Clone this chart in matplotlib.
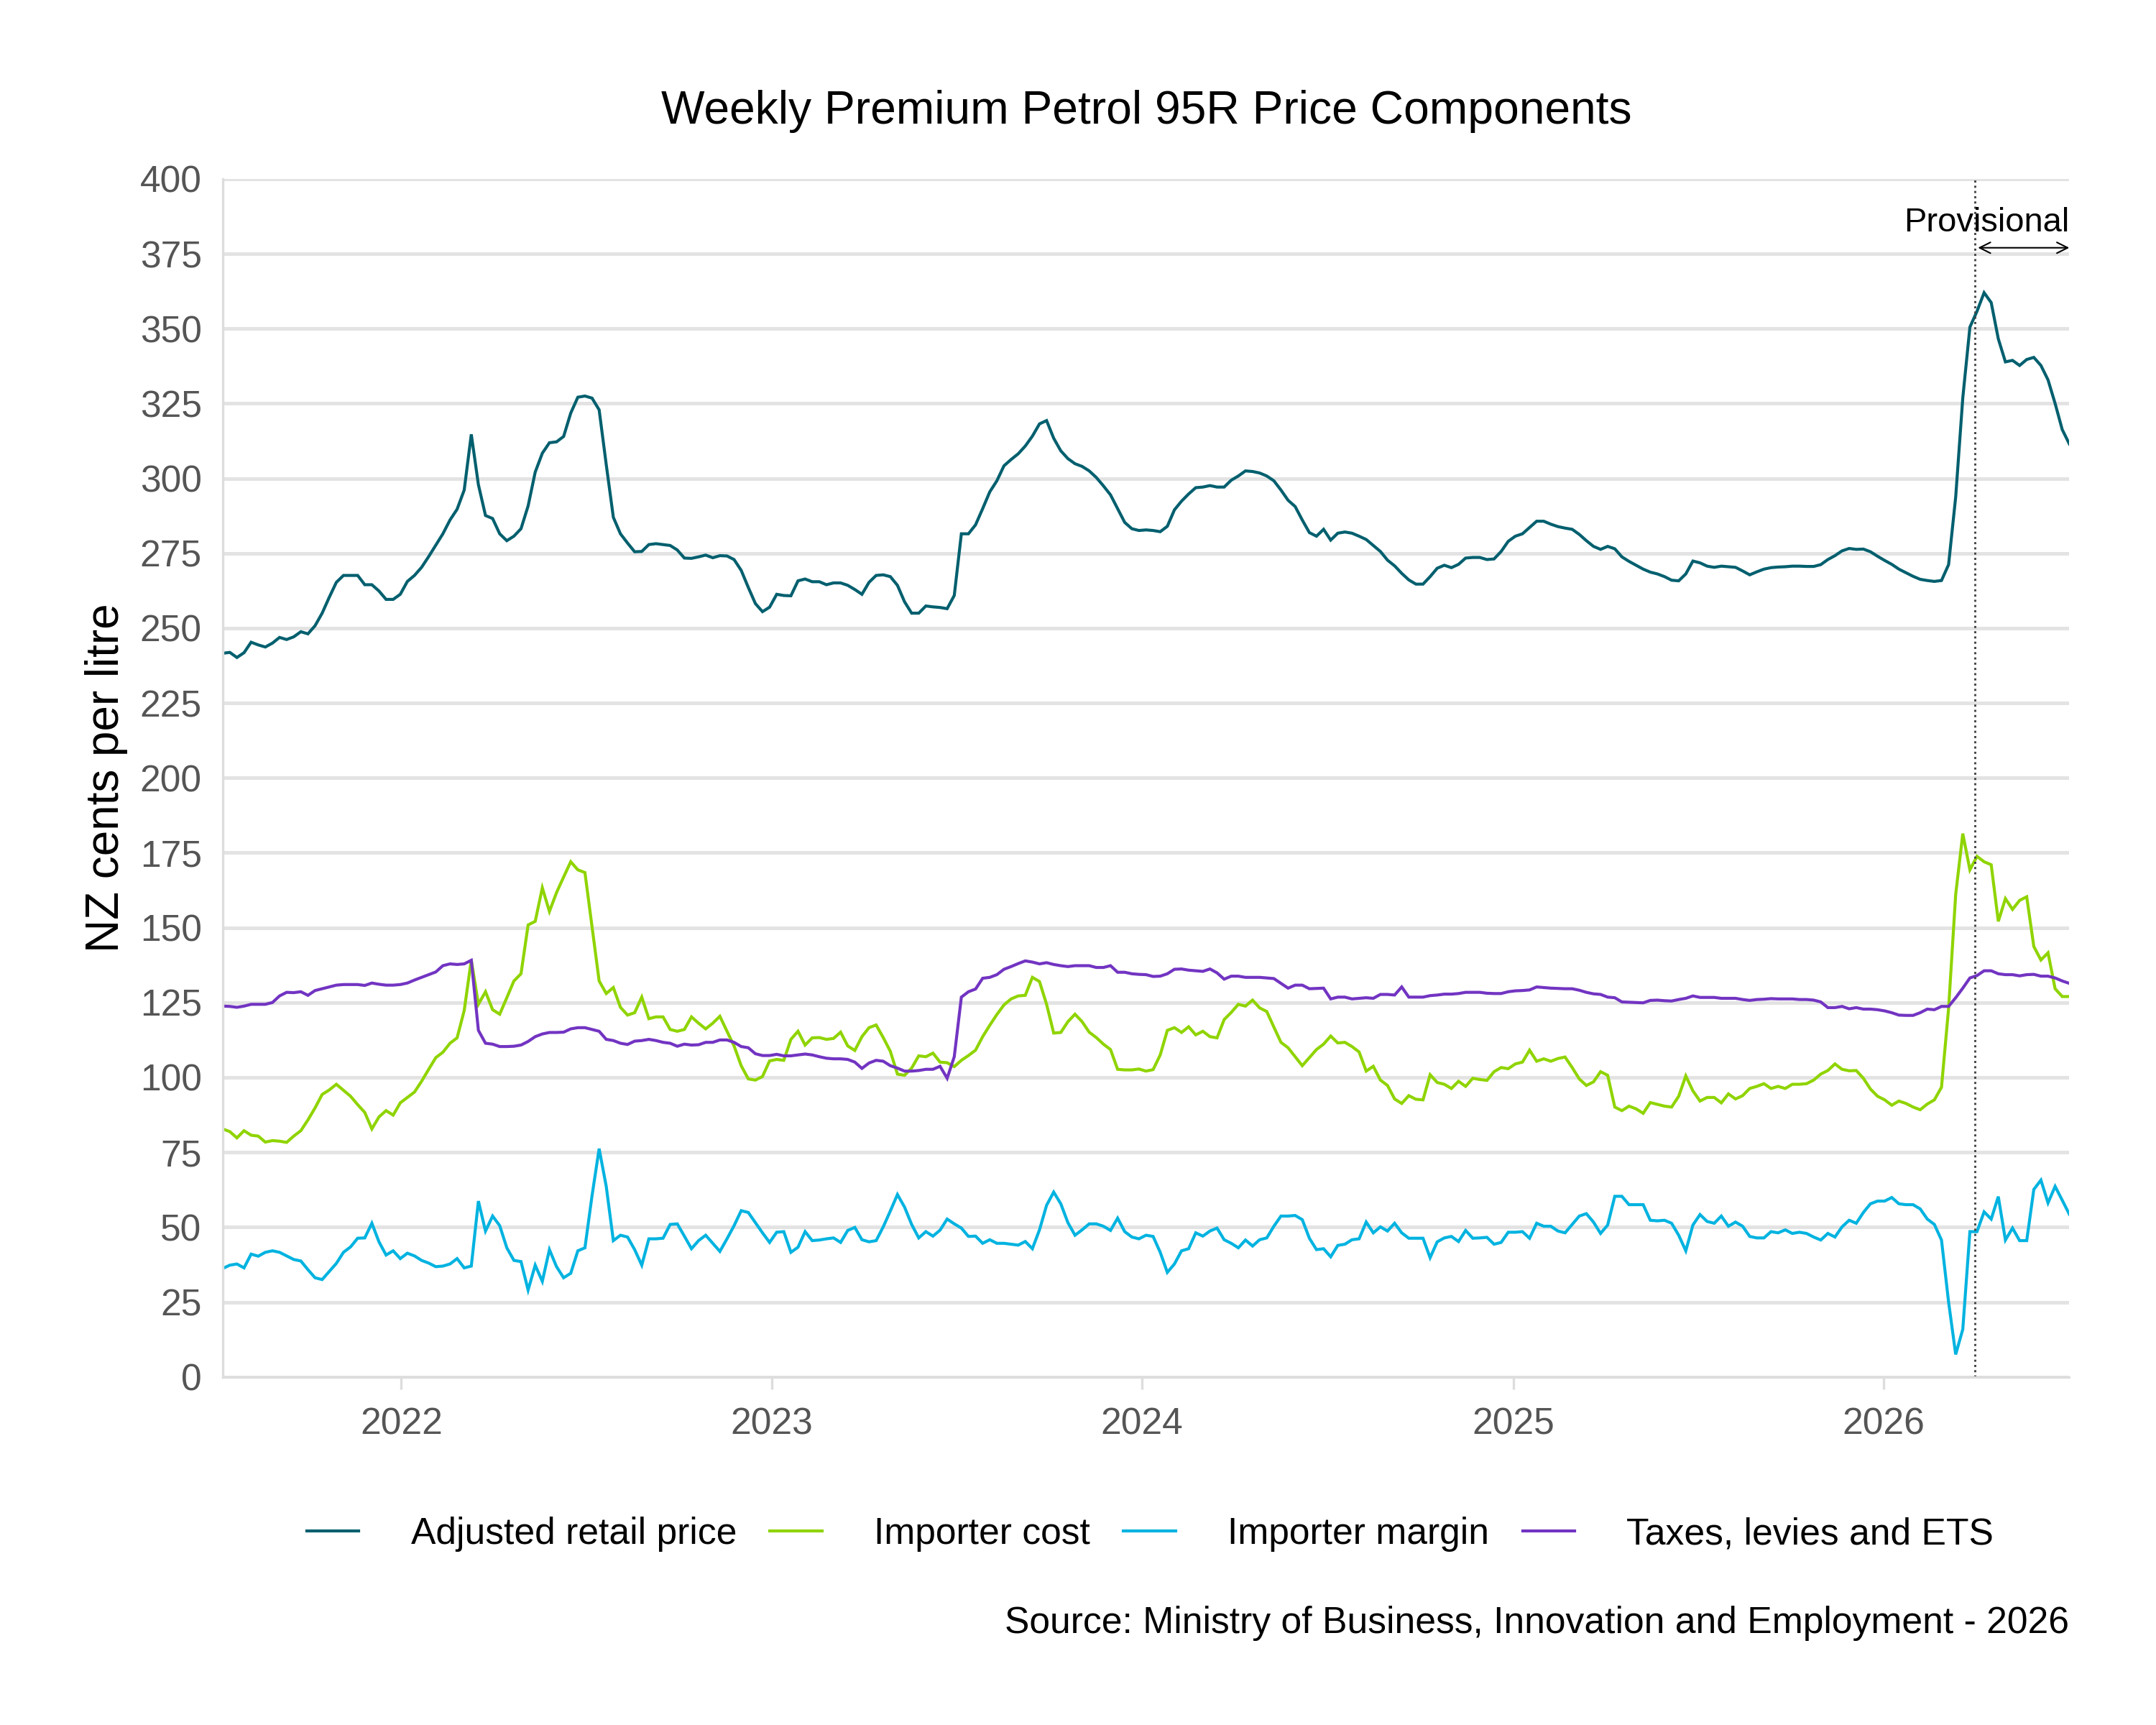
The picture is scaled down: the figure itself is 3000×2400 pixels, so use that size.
import matplotlib.pyplot as plt
import matplotlib.dates as mdates
import pandas as pd

plt.rcParams['font.family'] = ['Liberation Sans', 'DejaVu Sans']

# weekly series, NZ cents per litre
start_date = '2021-07-09'
provisional_from = '2026-04-01'

retail = [
    241.6, 241.9, 240.2, 241.8, 245.3, 244.4, 243.7, 245.0, 246.9, 246.2, 247.1, 248.8, 248.1, 250.8, 255.0,
    260.3, 265.3, 267.6, 267.6, 267.6, 264.5, 264.5, 262.4, 259.6, 259.6, 261.3, 265.6, 267.6, 270.3, 273.9,
    277.7, 281.5, 286.1, 289.7, 296.1, 314.7, 297.9, 287.6, 286.6, 281.5, 279.2, 280.7, 283.2, 290.8,
    302.1, 308.4, 311.9, 312.2, 314.0, 321.8, 327.1, 327.5, 326.8, 322.9, 304.6, 287.0, 281.5, 278.4, 275.5,
    275.6, 277.9, 278.2, 277.9, 277.6, 276.1, 273.4, 273.3, 273.8, 274.4, 273.5, 274.2, 274.1, 272.9, 269.3,
    263.6, 258.2, 255.5, 257.0, 261.3, 260.9, 260.8, 265.8, 266.4, 265.5, 265.5, 264.5, 265.1,
    265.1, 264.3, 262.9, 261.3, 265.3, 267.6, 267.8, 267.2, 264.3, 258.8, 255.0, 255.0, 257.4, 257.1, 256.9,
    256.5, 260.9, 281.5, 281.5, 284.5, 289.9, 295.5, 299.2, 304.2, 306.3, 308.2, 310.8, 314.1, 318.2, 319.3,
    313.4, 309.2, 306.6, 304.9, 304.0, 302.5, 300.3, 297.5, 294.5, 289.9, 285.3, 283.2, 282.6,
    282.8, 282.6, 282.2, 284.0, 289.5, 292.4, 294.8, 296.9, 297.1, 297.6, 297.1, 297.1, 299.4, 300.8, 302.5,
    302.3, 301.8, 300.8, 299.2, 296.1, 292.7, 290.6, 286.1, 281.9, 280.7, 283.0, 279.4, 281.7, 282.1, 281.7,
    280.7, 279.6, 277.6, 275.6, 272.7, 270.8, 268.3, 266.1, 264.7, 264.7, 267.2, 270.0, 271.0,
    270.2, 271.3, 273.4, 273.6, 273.6, 272.9, 273.1, 275.6, 279.0, 280.7, 281.5, 283.6, 285.7, 285.7, 284.7,
    283.9, 283.4, 283.0, 281.3, 279.2, 277.3, 276.3, 277.3, 276.5, 273.8, 272.3, 271.0, 269.7, 268.7, 268.1,
    267.2, 266.0, 265.8, 268.1, 272.4, 271.8, 270.7, 270.3, 270.7, 270.5, 270.3, 269.1, 267.8,
    268.8, 269.7, 270.2, 270.4, 270.5, 270.7, 270.7, 270.6, 270.6, 271.2, 272.9, 274.2, 275.8, 276.6, 276.3,
    276.4, 275.5, 274.0, 272.6, 271.3, 269.7, 268.5, 267.3, 266.3, 265.9, 265.6, 265.9, 271.2, 293.8, 326.9,
    350.5, 355.8, 362.0, 358.7, 346.6, 338.9, 339.4, 337.7, 339.7, 340.4, 337.7, 332.9, 325.0, 316.3, 311.5,
]

importer_cost = [
    82.8, 81.9, 79.8, 82.2, 80.7, 80.4, 78.4, 78.9, 78.7, 78.3, 80.4, 82.2, 85.8, 89.8, 94.3,
    95.8, 97.7, 95.7, 93.7, 90.9, 88.3, 82.8, 86.8, 88.9, 87.4, 91.5, 93.3, 95.1, 98.7, 102.7,
    106.6, 108.4, 111.4, 113.2, 122.3, 139.2, 124.4, 128.6, 122.6, 121.1, 126.6, 132.2, 134.6, 150.9,
    152.1, 163.3, 155.4, 161.7, 166.9, 172.0, 169.3, 168.4, 150.3, 132.2, 128.0, 130.0, 123.4, 120.8, 121.6,
    126.8, 119.6, 120.2, 120.2, 116.0, 115.4, 116.0, 120.2, 118.1, 116.2, 118.1, 120.4, 115.4, 110.5, 103.9,
    99.5, 99.1, 100.3, 105.5, 106.0, 105.7, 112.7, 115.4, 110.8, 113.2, 113.3, 112.7, 113.0,
    115.1, 110.5, 109.0, 113.6, 116.6, 117.5, 113.3, 108.7, 101.1, 100.7, 103.1, 107.2, 106.9, 108.1, 105.1,
    104.9, 103.6, 105.7, 107.3, 109.1, 113.6, 117.4, 121.0, 124.2, 126.2, 127.2, 127.4, 133.4, 132.0, 124.4,
    114.8, 115.0, 118.6, 121.1, 118.6, 115.1, 113.3, 111.1, 109.3, 102.7, 102.5, 102.5, 102.8,
    102.1, 102.6, 107.5, 115.7, 116.6, 115.0, 116.9, 114.2, 115.4, 113.6, 113.2, 119.3, 121.7, 124.4, 123.8,
    125.8, 123.2, 122.0, 116.8, 111.7, 109.9, 106.9, 103.9, 106.6, 109.3, 111.1, 113.8, 111.5, 111.7, 110.3,
    108.5, 102.1, 103.7, 99.1, 97.3, 92.8, 91.3, 93.9, 92.7, 92.5, 100.9, 98.3, 97.7,
    96.3, 98.7, 97.0, 99.7, 99.3, 99.0, 101.9, 103.3, 102.9, 104.5, 105.1, 109.1, 105.4, 106.2, 105.4,
    106.3, 106.8, 103.3, 99.5, 97.3, 98.5, 101.9, 100.7, 90.1, 88.9, 90.4, 89.5, 88.0, 91.6, 91.0,
    90.4, 90.1, 93.7, 100.5, 95.5, 92.1, 93.3, 93.3, 91.5, 94.5, 92.8, 93.9, 96.3,
    97.0, 97.9, 96.3, 97.0, 96.3, 97.7, 97.7, 97.9, 99.1, 101.1, 102.3, 104.5, 102.7, 102.2, 102.3,
    99.7, 96.1, 93.7, 92.5, 90.7, 92.1, 91.3, 90.1, 89.2, 91.1, 92.5, 96.7, 123.0, 161.1, 181.4,
    169.3, 173.8, 172.0, 171.0, 152.1, 159.7, 156.1, 159.1, 160.3, 143.7, 139.2, 141.6, 129.6, 127.0, 127.0,
]

importer_margin = [
    36.2, 37.3, 37.7, 36.4, 41.0, 40.3, 41.6, 42.1, 41.6, 40.4, 39.2, 38.7, 35.8, 33.1, 32.5,
    35.2, 37.9, 41.6, 43.4, 46.3, 46.4, 51.3, 45.1, 40.7, 42.1, 39.5, 41.3, 40.4, 38.9, 38.0,
    36.8, 37.0, 37.7, 39.5, 36.4, 37.0, 58.7, 48.7, 53.7, 50.5, 43.1, 38.9, 38.5, 29.0,
    37.3, 31.9, 42.5, 36.8, 33.1, 34.6, 42.1, 43.1, 60.5, 76.2, 63.6, 45.5, 47.3, 46.7, 42.5,
    37.3, 46.1, 46.1, 46.3, 50.9, 51.1, 47.0, 42.8, 45.5, 47.3, 44.6, 41.9, 46.1, 50.5, 55.5,
    54.9, 51.5, 48.1, 44.9, 48.3, 48.5, 41.6, 43.3, 48.5, 45.5, 45.7, 46.1, 46.4,
    44.9, 48.9, 49.9, 45.8, 45.1, 45.5, 50.1, 55.4, 60.9, 56.7, 50.9, 46.4, 48.5, 47.0, 49.0,
    52.7, 51.1, 49.7, 46.9, 47.0, 44.6, 45.8, 44.6, 44.6, 44.3, 44.0, 45.2, 42.8, 49.1, 57.3,
    61.7, 57.8, 51.5, 47.3, 49.1, 51.1, 51.1, 50.3, 48.9, 53.0, 48.5, 46.7, 46.1,
    47.3, 46.9, 41.6, 34.9, 37.7, 42.1, 42.8, 48.1, 47.0, 48.7, 49.7, 45.8, 44.6, 43.1, 45.7,
    43.7, 45.8, 46.4, 50.3, 53.7, 53.7, 53.9, 52.5, 46.3, 42.5, 42.8, 40.1, 43.9, 44.3, 45.8,
    46.1, 51.7, 48.1, 50.1, 48.7, 51.3, 48.1, 46.3, 46.3, 46.3, 39.8, 45.1, 46.4,
    46.9, 45.2, 48.9, 46.3, 46.4, 46.6, 44.3, 44.9, 48.3, 48.3, 48.5, 46.3, 51.3, 50.3, 50.3,
    48.7, 48.1, 50.9, 53.7, 54.5, 51.7, 47.9, 50.7, 60.3, 60.3, 57.5, 57.5, 57.5, 52.3, 52.1,
    52.3, 51.3, 47.3, 42.1, 50.7, 54.2, 51.9, 51.3, 53.7, 50.3, 51.7, 50.3, 46.9,
    46.4, 46.4, 48.5, 48.1, 49.1, 47.9, 48.3, 47.9, 46.7, 45.7, 47.9, 46.7, 50.1, 52.3, 51.3,
    54.9, 57.8, 58.7, 58.7, 59.9, 57.8, 57.5, 57.5, 56.1, 52.7, 50.9, 45.7, 25.0, 7.5, 15.9,
    48.5, 48.5, 55.1, 52.7, 60.2, 45.7, 49.7, 45.5, 45.5, 62.6, 65.7, 58.1, 63.6, 59.0, 54.3,
]

taxes = [
    123.8, 123.7, 123.4, 123.8, 124.4, 124.4, 124.4, 125.0, 127.2, 128.4, 128.3, 128.6, 127.4, 129.0, 129.6,
    130.2, 130.8, 131.0, 131.0, 131.0, 130.7, 131.5, 131.1, 130.8, 130.8, 131.0, 131.5, 132.5, 133.4, 134.3,
    135.2, 137.3, 137.9, 137.7, 137.9, 139.1, 115.7, 111.4, 111.1, 110.3, 110.3, 110.4, 110.8, 112.0,
    113.6, 114.5, 115.0, 115.0, 115.1, 116.2, 116.6, 116.6, 116.0, 115.4, 112.7, 112.3, 111.4, 111.0, 112.1,
    112.3, 112.7, 112.3, 111.7, 111.4, 110.4, 111.1, 110.8, 110.9, 111.7, 111.7, 112.5, 112.5, 111.7, 110.3,
    109.9, 107.9, 107.3, 107.3, 107.7, 107.2, 107.2, 107.5, 107.8, 107.5, 106.9, 106.4, 106.2,
    106.2, 106.0, 105.1, 103.0, 104.8, 105.7, 105.4, 103.9, 103.1, 102.1, 102.1, 102.3, 102.7, 102.7, 103.7,
    99.7, 106.9, 126.8, 128.6, 129.5, 133.1, 133.4, 134.3, 136.1, 137.0, 138.0, 138.9, 138.5, 137.9, 138.3,
    137.7, 137.3, 137.0, 137.3, 137.3, 137.3, 136.7, 136.7, 137.3, 135.1, 135.1, 134.6, 134.4,
    134.3, 133.7, 133.8, 134.6, 136.1, 136.2, 135.8, 135.6, 135.4, 136.2, 134.9, 132.8, 133.8, 133.8, 133.4,
    133.4, 133.4, 133.2, 133.0, 131.4, 129.8, 130.8, 130.8, 129.6, 129.7, 129.8, 126.2, 126.8, 126.8, 126.2,
    126.4, 126.6, 126.4, 127.7, 127.7, 127.5, 130.2, 126.8, 126.8, 126.8, 127.3, 127.5, 127.8,
    127.8, 128.0, 128.4, 128.4, 128.4, 128.1, 128.0, 128.0, 128.6, 128.9, 129.0, 129.2, 130.2, 130.0, 129.8,
    129.7, 129.6, 129.6, 129.1, 128.4, 127.9, 127.7, 126.8, 126.6, 125.2, 125.1, 125.0, 124.9, 125.7, 125.8,
    125.6, 125.5, 126.0, 126.4, 127.2, 126.7, 126.7, 126.7, 126.4, 126.4, 126.4, 126.0, 125.7,
    126.0, 126.1, 126.3, 126.2, 126.2, 126.2, 126.0, 126.0, 125.8, 125.2, 123.3, 123.3, 123.7, 122.9, 123.3,
    122.8, 122.8, 122.6, 122.2, 121.6, 120.8, 120.7, 120.7, 121.6, 122.8, 122.6, 123.7, 123.7, 126.6, 129.8,
    133.2, 134.0, 135.6, 135.6, 134.6, 134.3, 134.3, 133.9, 134.3, 134.4, 133.8, 133.8, 133.2, 132.2, 131.4,
]

series_names = ['Adjusted retail price', 'Importer cost', 'Importer margin', 'Taxes, levies and ETS']
series_colors = ['#005f6e', '#8fd400', '#00b3e0', '#7234c2']

dates = pd.date_range(start_date, periods=len(retail), freq='7D')
prov = pd.Timestamp(provisional_from)

fig = plt.figure(figsize=(10, 8), dpi=300)
ax = fig.add_axes([0.1033, 0.2018, 0.8565, 0.6945])

for vals, name, col in zip([retail, importer_cost, importer_margin, taxes], series_names, series_colors):
    ax.plot(dates, vals, color=col, lw=1.0, label=name, solid_joinstyle='miter')

ax.set_ylim(0, 400)
ax.set_yticks(range(0, 401, 25))
ax.set_xlim(dates[0], dates[-1])
ax.xaxis.set_major_locator(mdates.YearLocator())
ax.xaxis.set_major_formatter(mdates.DateFormatter('%Y'))

ax.grid(axis='y', color='#e3e3e3', lw=1.2)
ax.set_axisbelow(True)
for s in ['top', 'right']:
    ax.spines[s].set_visible(False)
for s in ['left', 'bottom']:
    ax.spines[s].set_color('#dddddd')
    ax.spines[s].set_linewidth(0.8)
ax.tick_params(axis='y', length=0, pad=7, labelsize=12.4, labelcolor='#555555')
ax.tick_params(axis='x', length=4, width=0.8, color='#dddddd', pad=6, labelsize=12.4, labelcolor='#555555')

ax.set_ylabel('NZ cents per litre', fontsize=15.3)
ax.yaxis.set_label_coords(-0.0514, 0.5)

# provisional period marker
ax.axvline(prov, color='#444444', lw=0.7, ls=(0, (1, 1.5)))
ax.annotate('', xy=(dates[-1], 377), xytext=(prov, 377),
            arrowprops=dict(arrowstyle='<->', color='black', lw=0.5, mutation_scale=9, shrinkA=1, shrinkB=0))
ax.text(dates[-1], 380, 'Provisional', ha='right', va='bottom', fontsize=11.3)

fig.text(0.5319, 0.9355, 'Weekly Premium Petrol 95R Price Components', ha='center', va='center', fontsize=15.4)
fig.legend(loc='center', bbox_to_anchor=(0.5335, 0.1105), ncol=4, frameon=False, fontsize=12.4,
           handlelength=1.4, handletextpad=1.4, columnspacing=0.9)
fig.text(0.9598, 0.059, 'Source: Ministry of Business, Innovation and Employment - 2026',
         ha='right', va='center', fontsize=12.4)

fig.savefig('out.png', dpi=300)
